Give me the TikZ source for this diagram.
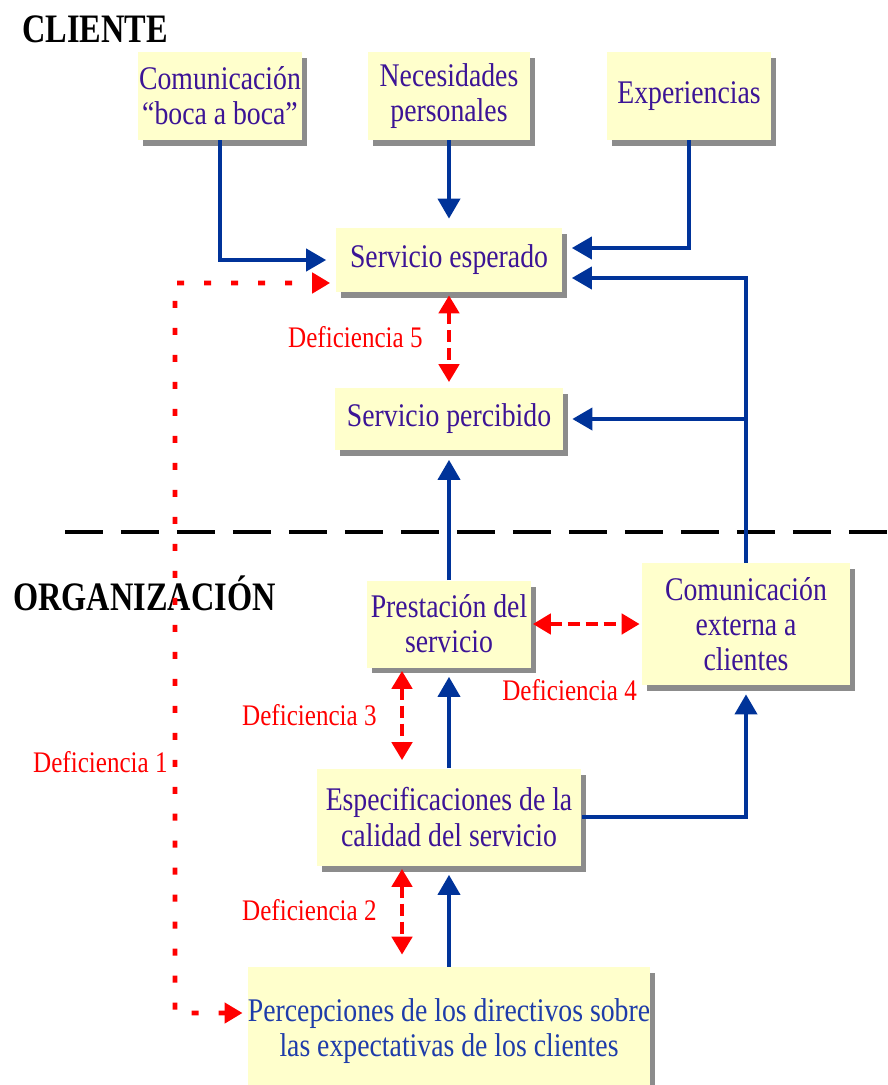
\documentclass[tikz,border=0pt]{standalone}
\usepackage{fontspec}
\setmainfont{Liberation Serif}
\newfontfamily\cajafont[FakeStretch=0.84]{Liberation Serif}
\newfontfamily\titulofont[FakeStretch=0.8]{Liberation Serif}
\usetikzlibrary{arrows.meta}
\usetikzlibrary{shadows}
\definecolor{fondocaja}{RGB}{255,255,204}
\definecolor{textocaja}{RGB}{60,20,150}
\definecolor{textoazul}{RGB}{30,60,170}
\definecolor{azulflecha}{RGB}{0,51,153}

\begin{document}
\begin{tikzpicture}
[x=0.02cm,y=-0.02cm,%
  every node/.style={inner sep=0pt},%
  caja/.style={rectangle,fill=fondocaja,text=textocaja,align=center,
    font=\cajafont\fontsize{18.8}{20}\selectfont,
    drop shadow={shadow xshift=0.1cm,shadow yshift=-0.12cm,fill=black!45,opacity=1}},%
  titulo/.style={anchor=base west,font=\titulofont\bfseries\fontsize{23}{25}\selectfont},%
  deflbl/.style={red,font=\cajafont\fontsize{17}{19}\selectfont},%
  flecha/.style={-{Triangle[length=0.4cm,width=0.44cm]},line width=2.2pt,azulflecha,shorten >=0.18cm},%
  linea/.style={line width=2.2pt,azulflecha},%
  brecha/.style={{Triangle[length=0.36cm,width=0.4cm]}-{Triangle[length=0.36cm,width=0.4cm]},
    line width=2.8pt,red,dash pattern=on 0.24cm off 0.12cm},%
  brechalarga/.style={{Triangle[length=0.36cm,width=0.4cm]}-{Triangle[length=0.36cm,width=0.4cm]},
    line width=2.8pt,red,dash pattern=on 0.14cm off 0.4cm,shorten <=0.1cm,shorten >=0.1cm}]
\useasboundingbox (0,0) rectangle (887,1085);
% separador cliente / organizacion
\draw[line width=2.8pt,dash pattern=on 0.76cm off 0.36cm] (65,532) -- (887,532);
\node[titulo] (cliente) at (22,42) {CLIENTE};
\node[titulo] (organizacion) at (13,610) {ORGANIZACIÓN};
% cajas
\node[caja,minimum width=3.3cm,minimum height=1.76cm] (boca) at (220,96) {Comunicación\\“boca a boca”};
\node[caja,minimum width=3.26cm,minimum height=1.76cm] (necesidades) at (449,96) {Necesidades\\personales};
\node[caja,minimum width=3.3cm,minimum height=1.76cm] (experiencias) at (689,96) {Experiencias};
\node[caja,minimum width=4.54cm,minimum height=1.28cm] (esperado) at (449,260) {Servicio esperado};
\node[caja,minimum width=4.56cm,minimum height=1.26cm] (percibido) at (449,419) {Servicio percibido};
\node[caja,minimum width=3.3cm,minimum height=1.74cm] (prestacion) at (449,624) {Prestación del\\servicio};
\node[caja,minimum width=4.16cm,minimum height=2.44cm] (externa) at (746,624) {Comunicación\\externa a\\clientes};
\node[caja,minimum width=5.3cm,minimum height=1.94cm] (especificaciones) at (449,817) {Especificaciones de la\\calidad del servicio};
\node[caja,text=textoazul,minimum width=8.04cm,minimum height=2.56cm] (percepciones) at (449,1031) {Percepciones de los directivos sobre\\las expectativas de los clientes};
% flechas azules
\coordinate (rama) at (externa.north |- percibido.east);
\draw[flecha] (boca) |- (esperado);
\draw[flecha] (necesidades) -- (esperado);
\draw[flecha] (experiencias) |- ([yshift=0.24cm]esperado.east);
\draw[flecha] (externa) |- ([yshift=-0.36cm]esperado.east);
\draw[flecha] (rama) -- (percibido);
\draw[flecha] (prestacion) -- (percibido);
\draw[flecha] (especificaciones) -- (prestacion);
\draw[flecha] (especificaciones) -| (externa);
\draw[flecha] (percepciones) -- (especificaciones);
% deficiencias
\coordinate (giro) at (175,283);
\draw[brecha,shorten <=0.06cm,shorten >=0.1cm] (esperado) -- (percibido);
\draw[brecha,shorten <=0.02cm,shorten >=0.04cm] (prestacion) -- (externa);
\draw[brecha,shorten <=0.06cm,shorten >=0.16cm] ([xshift=-0.94cm]prestacion.south) -- ([xshift=-0.94cm]prestacion.south |- especificaciones.north);
\draw[brecha,shorten <=0.06cm,shorten >=0.24cm] ([xshift=-0.94cm]prestacion.south |- especificaciones.south) -- ([xshift=-0.94cm]prestacion.south |- percepciones.north);
\draw[brechalarga] ([yshift=0.36cm]percepciones.west) -| (giro) -- ([yshift=-0.46cm]esperado.west);
\node[deflbl,anchor=base east] (def5) at (423,347) {Deficiencia 5};
\node[deflbl,anchor=base west] (def4) at (502,700) {Deficiencia 4};
\node[deflbl,anchor=base east] (def3) at (377,725) {Deficiencia 3};
\node[deflbl,anchor=base east] (def2) at (377,920) {Deficiencia 2};
\node[deflbl,anchor=base east] (def1) at (168,772) {Deficiencia 1};
\end{tikzpicture}
\end{document}
